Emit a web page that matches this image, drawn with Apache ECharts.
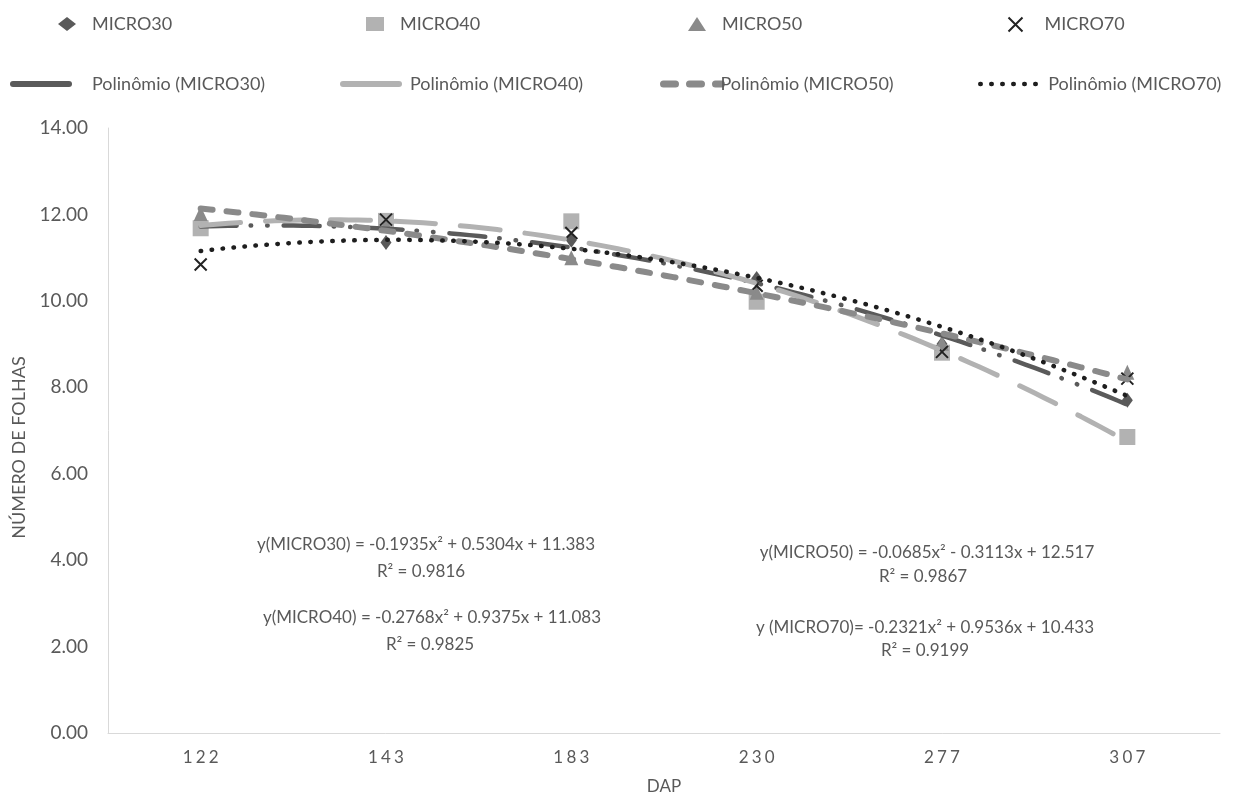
<!DOCTYPE html>
<html><head><meta charset="utf-8">
<script src="https://cdn.jsdelivr.net/npm/echarts@6/dist/echarts.min.js"></script>
<style>html,body{margin:0;padding:0;background:#fff}#c{width:1234px;height:796px}</style>
</head><body><div id="c"></div>
<script>
const categories = ['122','143','183','230','277','307'];
const yTicks = ['0.00','2.00','4.00','6.00','8.00','10.00','12.00','14.00'];
const micro30 = [11.72, 11.35, 11.40, 10.52, 9.00, 7.70];
const micro40 = [11.68, 11.85, 11.84, 9.98, 8.80, 6.85];
const micro50 = [12.02, 11.75, 11.00, 10.20, 9.02, 8.35];
const micro70 = [10.84, 11.88, 11.57, 10.35, 8.82, 8.20];
// trendline coefficients [a, b, c] for y = a x^2 + b x + c (as printed on the chart)
const coef30 = [-0.1935, 0.5304, 11.383];
const coef40 = [-0.2768, 0.9375, 11.083];
const coef50 = [-0.0685, -0.3113, 12.517];
const coef70 = [-0.2321, 0.9536, 10.433];
const eqTexts = [
  'y(MICRO30) = -0.1935x² + 0.5304x + 11.383', 'R² = 0.9816',
  'y(MICRO40) = -0.2768x² + 0.9375x + 11.083', 'R² = 0.9825',
  'y(MICRO50) = -0.0685x² - 0.3113x + 12.517', 'R² = 0.9867',
  'y (MICRO70)= -0.2321x² + 0.9536x + 10.433', 'R² = 0.9199'
];

const C30 = '#5a5a5a', C40 = '#b2b2b2', C50 = '#8a8a8a', C70 = '#1e1e1e';
const FONT = 'Lato';
const TXT = '#595959';

function trend(cf) {
  const pts = [];
  for (let i = 0; i <= 100; i++) {
    const x = 1 + 5 * i / 100;
    pts.push([x, cf[0] * x * x + cf[1] * x + cf[2]]);
  }
  return pts;
}

const chart = echarts.init(document.getElementById('c'), null, {renderer: 'canvas'});
function lg(name, left, top, w, pad, lineStyle) {
  const o = {data: [name], left: left, top: top, itemWidth: w, itemHeight: 14, itemGap: 0,
          textStyle: {color: TXT, fontFamily: FONT, fontSize: 18, padding: [0, 0, 0, pad]},
          selectedMode: false, padding: 0};
  if (lineStyle) { o.itemStyle = {opacity: 0}; o.lineStyle = lineStyle; }
  return o;
}
const xIcon = 'path://M0,0 L10,10 M10,0 L0,10';

const option = {
  animation: false,
  backgroundColor: '#fff',
  legend: [
    lg('MICRO30', 58, 15, 18, 11), lg('MICRO40', 366, 15, 18, 11), lg('MICRO50', 688, 15, 18, 11), lg('MICRO70', 1006, 15, 18, 15),
    lg('Polinômio (MICRO30)', 10, 75, 56, 18, {type: 'solid', width: 6, cap: 'round'}),
    lg('Polinômio (MICRO40)', 340, 75, 56, 6, {type: 'solid', width: 6, cap: 'round'}),
    lg('Polinômio (MICRO50)', 660, 75, 58, -6, {type: [12, 14], width: 7, cap: 'round'}),
    lg('Polinômio (MICRO70)', 978, 75, 62, 1, {type: [0.5, 10.5], width: 4.5, cap: 'round'})
  ],
  grid: {left: 108, right: 14, top: 128, bottom: 63, containLabel: false, outerBoundsMode: 'none'},
  xAxis: [{
    type: 'category', data: categories, boundaryGap: true,
    name: 'DAP', nameLocation: 'middle', nameGap: 45,
    nameTextStyle: {color: TXT, fontFamily: FONT, fontSize: 17},
    axisLine: {lineStyle: {color: '#d9d9d9', width: 1}},
    axisTick: {show: false},
    axisLabel: {color: TXT, fontFamily: FONT, fontSize: 17, margin: 16,
      formatter: v => v.split('').join('\u2009\u200a')},
    splitLine: {show: false}
  }, {
    type: 'value', min: 0.5, max: 6.5, show: false, gridIndex: 0
  }],
  yAxis: {
    type: 'value', min: 0, max: 14, interval: 2,
    name: 'NÚMERO DE FOLHAS', nameLocation: 'middle', nameGap: 80, nameRotate: 90,
    nameTextStyle: {color: TXT, fontFamily: FONT, fontSize: 18, padding: [0, 34, 0, 0]},
    axisLine: {show: true, lineStyle: {color: '#d9d9d9', width: 1}},
    axisTick: {show: false},
    axisLabel: {color: TXT, fontFamily: FONT, fontSize: 19, margin: 20,
      formatter: v => yTicks[Math.round(v / 2)]},
    splitLine: {show: false}
  },
  series: [
    {name: 'MICRO30', type: 'scatter', data: micro30, symbol: 'diamond', symbolSize: [11, 15],
     itemStyle: {color: C30, opacity: 1}, z: 2},
    {name: 'MICRO40', type: 'scatter', data: micro40, symbol: 'rect', symbolSize: 16,
     itemStyle: {color: C40, opacity: 1}, z: 2},
    {name: 'MICRO50', type: 'scatter', data: micro50, symbol: 'triangle', symbolSize: [14, 15],
     itemStyle: {color: C50, opacity: 1}, z: 2},
    {name: 'MICRO70', type: 'scatter', data: micro70, symbol: xIcon, symbolSize: 12,
     itemStyle: {color: 'none', borderColor: '#222', borderWidth: 2, opacity: 1}, z: 2},
    {name: 'Polinômio (MICRO30)', type: 'line', xAxisIndex: 1, data: trend(coef30), showSymbol: false, symbol: 'none',
     color: C30, lineStyle: {color: C30, width: 4.5, cap: 'round', type: [36, 14, 0.5, 16, 0.5, 16]}, z: 3},
    {name: 'Polinômio (MICRO40)', type: 'line', xAxisIndex: 1, data: trend(coef40), showSymbol: false, symbol: 'none',
     color: C40, lineStyle: {color: C40, width: 5, cap: 'round', type: [40, 25]}, z: 3},
    {name: 'Polinômio (MICRO50)', type: 'line', xAxisIndex: 1, data: trend(coef50), showSymbol: false, symbol: 'none',
     color: C50, lineStyle: {color: C50, width: 6, cap: 'round', type: [12, 14]}, z: 3},
    {name: 'Polinômio (MICRO70)', type: 'line', xAxisIndex: 1, data: trend(coef70), showSymbol: false, symbol: 'none',
     color: C70, lineStyle: {color: C70, width: 4.5, cap: 'round', type: [0.5, 10.5]}, z: 4}
  ],
  graphic: [
    [426, 545], [421, 572], [432, 618], [430, 645], [927, 553], [923, 577], [925, 628], [925, 651]
  ].map((p, i) => ({type: 'text', x: p[0], y: p[1],
    style: {text: eqTexts[i], fill: TXT, font: '17px ' + FONT, textAlign: 'center', textVerticalAlign: 'middle'}}))
};
chart.setOption(option);
</script>
</body></html>
